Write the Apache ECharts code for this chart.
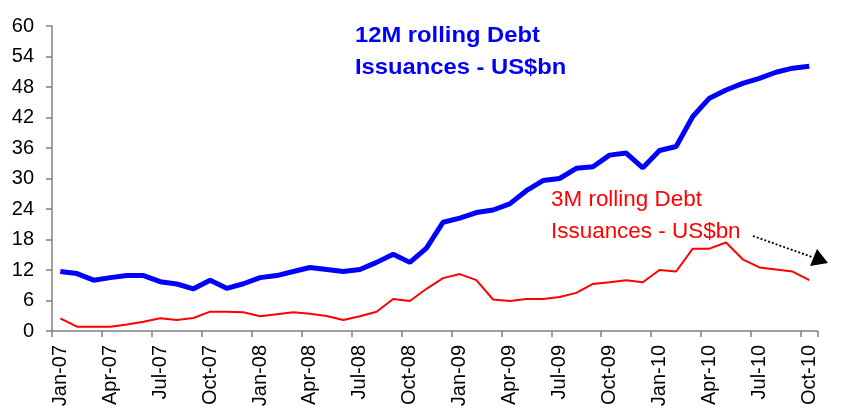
<!DOCTYPE html>
<html>
<head>
<meta charset="utf-8">
<script src="https://cdn.jsdelivr.net/npm/echarts@6/dist/echarts.min.js"></script>
<style>
html,body{margin:0;padding:0;background:#fff;}
#c{width:850px;height:419px;}
</style>
</head>
<body>
<div id="c"></div>
<script>
var months = ['Jan-07','Feb-07','Mar-07','Apr-07','May-07','Jun-07','Jul-07','Aug-07','Sep-07','Oct-07','Nov-07','Dec-07',
  'Jan-08','Feb-08','Mar-08','Apr-08','May-08','Jun-08','Jul-08','Aug-08','Sep-08','Oct-08','Nov-08','Dec-08',
  'Jan-09','Feb-09','Mar-09','Apr-09','May-09','Jun-09','Jul-09','Aug-09','Sep-09','Oct-09','Nov-09','Dec-09',
  'Jan-10','Feb-10','Mar-10','Apr-10','May-10','Jun-10','Jul-10','Aug-10','Sep-10','Oct-10'];
var rolling12M = [11.7,11.3,10.0,10.5,10.9,10.9,9.7,9.25,8.3,10.0,8.4,9.3,
  10.5,10.9,11.7,12.5,12.1,11.7,12.1,13.5,15.1,13.5,16.3,21.4,
  22.2,23.3,23.8,25.0,27.6,29.6,30.0,32.0,32.3,34.6,35.0,32.1,
  35.5,36.3,42.2,45.8,47.4,48.7,49.7,50.9,51.7,52.1];
var rolling3M = [2.5,0.85,0.85,0.85,1.3,1.8,2.5,2.15,2.55,3.8,3.8,3.7,
  2.9,3.3,3.7,3.4,2.95,2.15,2.9,3.8,6.3,5.9,8.3,10.4,
  11.2,10.0,6.2,5.9,6.3,6.3,6.7,7.5,9.25,9.6,10.0,9.6,
  12.0,11.7,16.2,16.2,17.4,14.1,12.5,12.1,11.7,10.0];
var yTicks = {min:0, max:60, interval:6};
var label12M = ['12M rolling Debt','Issuances - US$bn'];
var label3M = ['3M rolling Debt','Issuances - US$bn'];

var chart = echarts.init(document.getElementById('c'), null, {renderer:'canvas'});
var font = 'Liberation Sans, Arial, sans-serif';
chart.setOption({
  animation:false,
  backgroundColor:'#fff',
  grid:{left:52, right:32.4, top:26, bottom:88, containLabel:false},
  xAxis:{
    type:'category', data:months, boundaryGap:true,
    axisLine:{lineStyle:{color:'#808080', width:1.5}},
    axisTick:{show:true, interval:2, length:6, lineStyle:{color:'#808080', width:1.5}},
    axisLabel:{interval:2, rotate:90, margin:14, color:'#000', fontSize:20, fontFamily:font},
    splitLine:{show:false}
  },
  yAxis:{
    type:'value', min:yTicks.min, max:yTicks.max, interval:yTicks.interval,
    axisLine:{show:true, lineStyle:{color:'#808080', width:1.5}},
    axisTick:{show:true, length:6, lineStyle:{color:'#808080', width:1.5}},
    axisLabel:{margin:18, color:'#000', fontSize:20, fontFamily:font},
    splitLine:{show:false}
  },
  series:[
    {type:'line', data:rolling12M, showSymbol:false, symbol:'none', lineStyle:{color:'#0000FF', width:5}, z:3},
    {type:'line', data:rolling3M, showSymbol:false, symbol:'none', lineStyle:{color:'#FF0000', width:2}, z:2}
  ],
  graphic:[
    {type:'text', x:355, y:20, scaleX:1.08, style:{text:label12M.join('\n'), fill:'#0000FF', font:'bold 22px '+font, lineHeight:32, align:'left', verticalAlign:'top'}},
    {type:'text', x:551, y:184, scaleX:1.02, style:{text:label3M.join('\n'), fill:'#FF0000', font:'22px '+font, lineHeight:32, align:'left', verticalAlign:'top'}},
    {type:'line', shape:{x1:753, y1:236, x2:812, y2:257}, style:{stroke:'#000', lineWidth:1.8, lineDash:[2,2]}},
    {type:'polygon', shape:{points:[[828,263],[810,266],[817,249]]}, style:{fill:'#000'}}
  ]
});
</script>
</body>
</html>
